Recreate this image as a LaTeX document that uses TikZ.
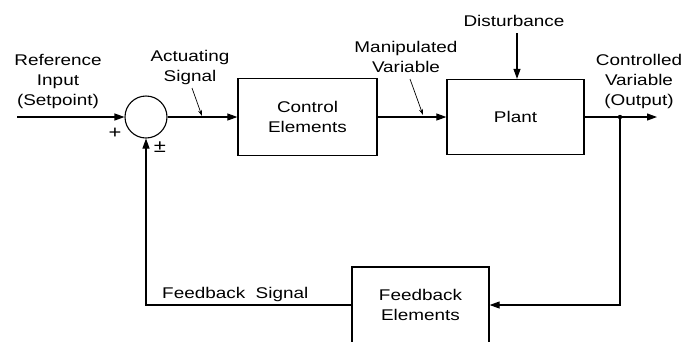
\documentclass[tikz,border=0pt]{standalone}
\usepackage{fontspec}
\setmainfont{Liberation Sans}[FakeStretch=1.22]
\usetikzlibrary{arrows.meta}
\begin{document}
\begin{tikzpicture}[x=1pt,y=-1pt,
  lbl/.style={align=center,inner sep=0pt,font=\fontsize{15.5}{20}\selectfont},
  blk/.style={draw,line width=1.3pt,inner sep=0pt,align=center,font=\fontsize{15.5}{20}\selectfont},
  wire/.style={line width=1.1pt},
  arr/.style={wire,-{Triangle[length=10pt,width=7pt]}},
  ptr/.style={line width=0.7pt,-{Stealth[length=6pt,width=4pt]}}]
\useasboundingbox (0,0) rectangle (690,341);
% blocks
\node[draw,circle,line width=1.1pt,minimum size=42pt,inner sep=0pt] (sum) at (146,117) {};
\node[blk,minimum width=139pt,minimum height=77pt] (ctrl) at (307.5,117) {Control\\Elements};
\node[blk,minimum width=137pt,minimum height=75pt] (plant) at (515.5,117) {Plant};
\node[blk,minimum width=137pt,minimum height=76pt] (fb) at (420.5,305) {Feedback\\Elements};
% labels
\node[lbl] (ref) at (58,81) {Reference\\Input\\(Setpoint)};
\node[lbl] (act) at (190,67) {Actuating\\Signal};
\node[lbl] (man) at (406,57) {Manipulated\\Variable};
\node[lbl] (dist) at (514,21) {Disturbance};
\node[lbl] (cv) at (639,81) {Controlled\\Variable\\(Output)};
\node[lbl,anchor=west] (fbs) at (162,294) {Feedback\ \ Signal};
\node[lbl,font=\fontsize{18}{20}\selectfont] (plus) at (115,133) {+};
\node[lbl,font=\fontsize{18}{20}\selectfont] (pm) at (160,147) {±};
% coordinates
\coordinate (in) at (17,117);
\coordinate (tap) at (620,117);
\coordinate (out) at (657,117);
\coordinate (actA) at (192,88);
\coordinate (actB) at (202,116);
\coordinate (manA) at (410,79);
\coordinate (manB) at (423,115);
\coordinate (distA) at (517,33);
% connectors
\draw[arr] (in) -- (sum.west);
\draw[arr] (sum.east) -- (ctrl.west);
\draw[arr] (ctrl.east) -- (plant.west);
\draw[wire] (plant.east) -- (tap);
\draw[arr] (tap) -- (out);
\fill (tap) circle (2.2pt);
\draw[arr] (tap) |- (fb.east);
\draw[arr] (fb.west) -| (sum.south);
\draw[arr] (distA) -- (distA |- plant.north);
\draw[ptr] (actA) -- (actB);
\draw[ptr] (manA) -- (manB);
\end{tikzpicture}
\end{document}
